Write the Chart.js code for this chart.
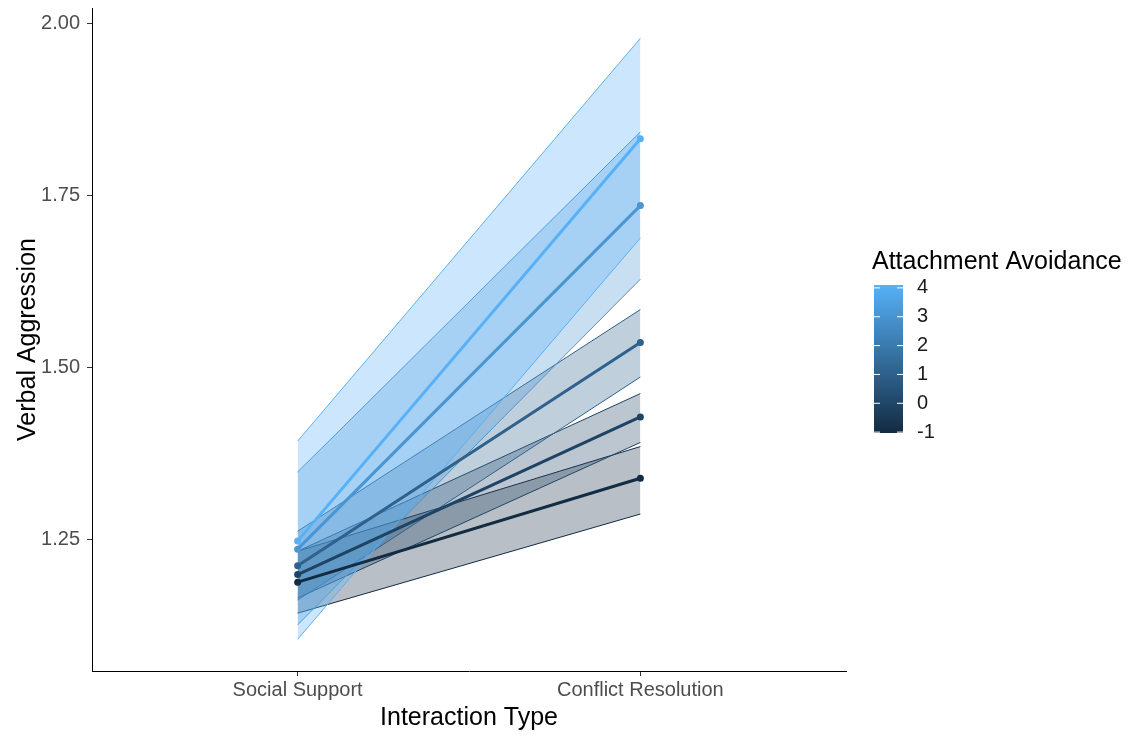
<!DOCTYPE html>
<html>
<head>
<meta charset="utf-8">
<script src="https://cdn.jsdelivr.net/npm/chart.js@4/dist/chart.umd.min.js"></script>
<style>
  body { margin: 0; background: #fff; }
  #wrap { width: 1134px; height: 738px; }
</style>
</head>
<body>
<div id="wrap"><canvas id="myChart" width="1134" height="738"></canvas></div>
<script>
// Data
const categories = ["Social Support", "Conflict Resolution"];
const avoidance = [4.1, 3.08, 1.04, -0.1, -1.03];          // moderator value of each line
const socialSupport = [1.248, 1.236, 1.212, 1.199, 1.188];
const conflictResolution = [1.832, 1.735, 1.536, 1.428, 1.339];
const lowerSocial = [1.105, 1.126, 1.162, 1.165, 1.143];
const upperSocial = [1.393, 1.348, 1.262, 1.233, 1.233];
const lowerConflict = [1.688, 1.628, 1.486, 1.391, 1.287];
const upperConflict = [1.978, 1.842, 1.584, 1.462, 1.385];
const yTicks = [1.25, 1.50, 1.75, 2.00];
const legendTicks = [-1, 0, 1, 2, 3, 4];
const avoidRange = [-1.03, 4.1];

const lowColor = [19, 43, 67];    // #132B43
const highColor = [86, 177, 247]; // #56B1F7
const FONT = "'Liberation Sans', Arial, sans-serif";

function colorFor(v, alpha) {
  const t = (v - avoidRange[0]) / (avoidRange[1] - avoidRange[0]);
  const c = lowColor.map((lo, i) => Math.round(lo + (highColor[i] - lo) * t));
  return alpha == null ? `rgb(${c[0]},${c[1]},${c[2]})` : `rgba(${c[0]},${c[1]},${c[2]},${alpha})`;
}

// build the datasets: ribbon (lower + upper filled) and the line for every group
const datasets = [];
avoidance.forEach((v, i) => {
  datasets.push({
    data: [{ x: 1, y: socialSupport[i] }, { x: 2, y: conflictResolution[i] }],
    borderColor: colorFor(v),
    backgroundColor: colorFor(v),
    borderWidth: 3,
    pointRadius: 3.5,
    pointBorderWidth: 0,
    pointBackgroundColor: colorFor(v),
    fill: false,
    order: 0
  });
});
avoidance.forEach((v, i) => {
  datasets.push({
    data: [{ x: 1, y: lowerSocial[i] }, { x: 2, y: lowerConflict[i] }],
    borderColor: colorFor(v),
    borderWidth: 1,
    pointRadius: 0,
    fill: false,
    order: 1
  });
  datasets.push({
    data: [{ x: 1, y: upperSocial[i] }, { x: 2, y: upperConflict[i] }],
    borderColor: colorFor(v),
    backgroundColor: colorFor(v, 0.3),
    borderWidth: 1,
    pointRadius: 0,
    fill: '-1',
    order: 1
  });
});

// colour bar legend drawn on the canvas
const colorBarLegend = {
  id: 'colorBarLegend',
  afterDraw(chart) {
    const c = chart.ctx;
    const barX = 874, barW = 29, barTop = 285, barBottom = 433;
    c.save();
    c.fillStyle = '#000';
    c.font = `25px ${FONT}`;
    c.textAlign = 'left';
    c.textBaseline = 'middle';
    c.fillText('Attachment Avoidance', 872, 262);

    const grad = c.createLinearGradient(0, barBottom, 0, barTop);
    grad.addColorStop(0, colorFor(avoidRange[0]));
    grad.addColorStop(1, colorFor(avoidRange[1]));
    c.fillStyle = grad;
    c.fillRect(barX, barTop, barW, barBottom - barTop);

    c.strokeStyle = '#fff';
    c.lineWidth = 1;
    c.fillStyle = '#1a1a1a';
    c.font = `20px ${FONT}`;
    legendTicks.forEach(t => {
      const y = barBottom - (t - avoidRange[0]) / (avoidRange[1] - avoidRange[0]) * (barBottom - barTop);
      c.beginPath();
      c.moveTo(barX, y); c.lineTo(barX + 6, y);
      c.moveTo(barX + barW - 6, y); c.lineTo(barX + barW, y);
      c.stroke();
      c.fillText(String(t), 917, y);
    });
    c.restore();
  }
};

const ctx = document.getElementById('myChart');
const myChart = new Chart(ctx, {
  type: 'line',
  data: { datasets: datasets },
  plugins: [colorBarLegend],
  options: {
    responsive: false,
    animation: false,
    layout: { padding: { top: 8, right: 288, left: 0, bottom: 0 } },
    plugins: {
      legend: { display: false },
      tooltip: { enabled: false }
    },
    scales: {
      x: {
        type: 'linear',
        min: 0.4,
        max: 2.6,
        afterBuildTicks: s => { s.ticks = [{ value: 1 }, { value: 2 }]; },
        afterFit: s => { s.height = 67; s.paddingLeft = 0; s.paddingRight = 0; },
        ticks: {
          callback: v => categories[v - 1],
          color: '#4D4D4D',
          font: { family: FONT, size: 20 },
          padding: 2,
          maxRotation: 0
        },
        grid: { drawOnChartArea: false, tickLength: 5, tickColor: '#333', lineWidth: 1 },
        border: { display: true, color: '#000', width: 1 },
        title: {
          display: true,
          text: 'Interaction Type',
          color: '#000',
          font: { family: FONT, size: 25 },
          padding: { top: 0, bottom: 5 }
        }
      },
      y: {
        type: 'linear',
        min: 1.059,
        max: 2.022,
        afterBuildTicks: s => { s.ticks = yTicks.map(v => ({ value: v })); },
        afterFit: s => { s.width = 92; s.paddingTop = 0; s.paddingBottom = 0; },
        ticks: {
          callback: v => Number(v).toFixed(2),
          color: '#4D4D4D',
          font: { family: FONT, size: 20 },
          padding: 7
        },
        grid: { drawOnChartArea: false, tickLength: 5, tickColor: '#333', lineWidth: 1 },
        border: { display: true, color: '#000', width: 1 },
        title: {
          display: true,
          text: 'Verbal Aggression',
          color: '#000',
          font: { family: FONT, size: 25 },
          padding: { top: 13, bottom: 0 }
        }
      }
    }
  }
});
</script>
</body>
</html>
